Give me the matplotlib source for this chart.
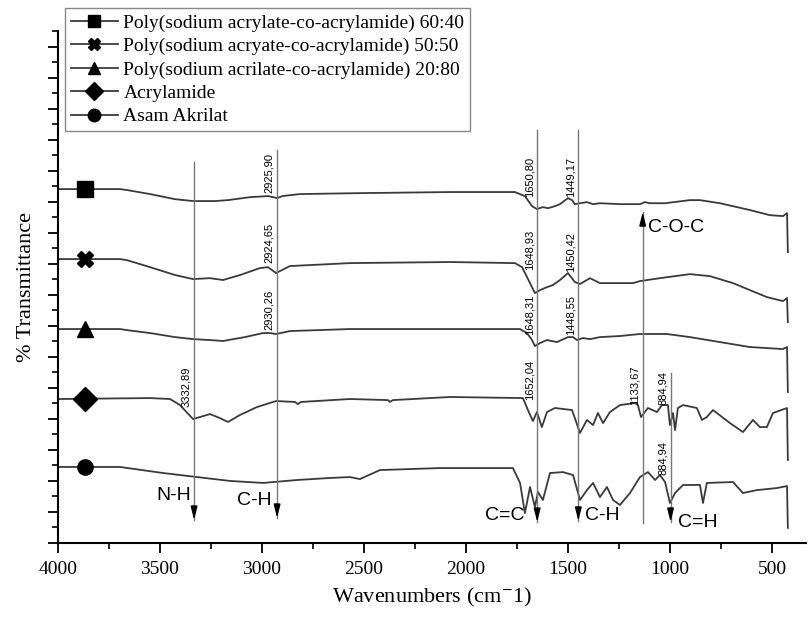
import matplotlib.pyplot as plt
import numpy as np
from matplotlib.lines import Line2D
from matplotlib.ticker import MultipleLocator, NullFormatter

plt.rcParams['font.family'] = ['Liberation Serif', 'DejaVu Serif']
plt.rcParams['mathtext.fontset'] = 'stix'

# FTIR spectra: wavenumber (cm-1) and stacked transmittance (a.u.)
wn_6040 = [4000, 3877, 3696, 3662, 3549, 3426, 3338, 3230, 3167, 3059, 2971, 2946, 2926,
           2900, 2814, 2520, 2078, 1784, 1760, 1711, 1676, 1652, 1623, 1598, 1564, 1539,
           1500, 1480, 1466, 1441, 1407, 1377, 1343, 1245, 1147, 1123, 1098, 1024, 902,
           853, 755, 608, 510, 446, 426, 422]
t_6040 = [22.81, 22.81, 22.81, 22.75, 22.49, 22.16, 22.04, 22.04, 22.10, 22.29, 22.36, 22.29,
          22.23, 22.36, 22.49, 22.55, 22.62, 22.62, 22.62, 22.36, 21.71, 21.52, 21.65, 21.58,
          21.71, 21.84, 22.23, 22.10, 21.84, 21.90, 21.97, 21.84, 21.90, 21.84, 21.84, 21.97,
          21.90, 21.90, 22.10, 22.10, 21.90, 21.46, 21.13, 21.07, 21.26, 18.75]

wn_5050 = [4000, 3696, 3662, 3549, 3426, 3338, 3255, 3191, 3108, 3010, 2971, 2931, 2863,
           2569, 2078, 1760, 1725, 1686, 1662, 1637, 1603, 1574, 1539, 1500, 1466, 1441,
           1392, 1343, 1181, 1147, 1049, 902, 804, 691, 608, 525, 446, 426, 422]
t_5050 = [18.30, 18.30, 18.23, 17.78, 17.27, 17.01, 17.07, 16.95, 17.27, 17.72, 17.78, 17.40,
          17.85, 18.04, 18.11, 18.04, 17.78, 16.75, 16.11, 16.30, 16.49, 16.62, 16.95, 17.40,
          16.82, 16.69, 17.07, 16.75, 16.75, 16.88, 17.07, 17.33, 17.20, 16.75, 16.30, 15.85,
          15.59, 15.79, 14.24]

wn_2080 = [4000, 3696, 3662, 3549, 3426, 3338, 3255, 3191, 3084, 2995, 2961, 2931, 2863,
           2569, 2078, 1735, 1701, 1676, 1662, 1637, 1603, 1554, 1500, 1475, 1456, 1426,
           1392, 1343, 1245, 1147, 1015, 902, 755, 608, 446, 426, 422]
t_2080 = [13.79, 13.79, 13.72, 13.53, 13.27, 13.14, 13.08, 13.02, 13.27, 13.53, 13.53, 13.47,
          13.66, 13.79, 13.79, 13.79, 13.53, 13.08, 12.69, 12.89, 13.08, 12.95, 13.27, 13.27,
          13.08, 13.21, 13.14, 13.27, 13.34, 13.47, 13.47, 13.27, 12.95, 12.63, 12.50, 12.63,
          9.73]

wn_acrylamide = [4000, 3549, 3451, 3402, 3338, 3304, 3255, 3206, 3167, 3108, 3025, 2931,
                 2838, 2824, 2809, 2569, 2382, 2373, 2358, 2078, 1721, 1696, 1672, 1652,
                 1628, 1603, 1564, 1480, 1441, 1407, 1377, 1353, 1328, 1294, 1245, 1171,
                 1157, 1142, 1108, 1064, 1039, 1010, 1000, 985, 975, 961, 936, 868, 843,
                 819, 789, 706, 642, 593, 559, 525, 495, 426, 422]
t_acrylamide = [9.28, 9.34, 9.28, 8.89, 7.99, 8.12, 8.31, 8.05, 7.80, 8.25, 8.76, 9.15,
                9.09, 8.95, 9.09, 9.28, 9.21, 9.09, 9.21, 9.41, 9.34, 8.57, 7.86, 8.44,
                7.47, 8.44, 8.70, 8.57, 7.09, 7.93, 7.60, 8.38, 7.73, 8.44, 8.89, 9.02,
                8.89, 8.12, 8.70, 8.44, 8.89, 8.89, 7.60, 8.38, 7.28, 8.70, 8.89, 8.70,
                7.93, 8.12, 8.57, 7.73, 7.15, 7.93, 7.47, 7.47, 8.38, 8.70, 5.35]

wn_akrilat = [4000, 3696, 3485, 3319, 3157, 2995, 2828, 2667, 2569, 2520, 2422, 2127, 1770,
              1735, 1711, 1686, 1662, 1647, 1623, 1588, 1525, 1475, 1441, 1407, 1377, 1343,
              1309, 1279, 1245, 1196, 1147, 1108, 1073, 1049, 1024, 1000, 975, 936, 853,
              838, 819, 691, 642, 574, 476, 426, 422]
t_akrilat = [4.90, 4.90, 4.51, 4.25, 4.00, 3.87, 4.06, 4.19, 4.25, 4.12, 4.70, 4.83, 4.83,
             3.87, 1.93, 3.61, 2.32, 3.29, 2.77, 4.51, 4.57, 4.38, 2.77, 3.41, 3.87, 2.96,
             3.61, 2.77, 2.45, 3.22, 4.25, 4.57, 4.06, 4.38, 3.93, 2.58, 3.22, 3.74, 3.74,
             2.58, 3.87, 3.93, 3.22, 3.41, 3.54, 3.67, 0.97]

labels = ['Poly(sodium acrylate-co-acrylamide) 60:40',
          'Poly(sodium acryate-co-acrylamide) 50:50',
          'Poly(sodium acrilate-co-acrylamide) 20:80',
          'Acrylamide',
          'Asam Akrilat']
markers = ['s', 'X', '^', 'D', 'o']
series = [(wn_6040, t_6040), (wn_5050, t_5050), (wn_2080, t_2080),
          (wn_acrylamide, t_acrylamide), (wn_akrilat, t_akrilat)]

# band assignment lines: wavenumber, top, tip, group label
band_wn = [3332.89, 2925.90, 1650.80, 1449.17, 1133.67, 997.0]
band_top = [24.55, 25.32, 26.6, 26.6, 1.29, 10.95]
band_tip = [1.48, 1.61, 1.35, 1.42, 21.33, 1.35]
band_name = ['N-H', 'C-H', 'C=C', 'C-H', 'C-O-C', 'C=H']
band_name_y = [3.09, 2.71, 1.80, 1.80, 20.36, 1.35]
band_name_dx = [-2, -4, -9, 5, 4, 5]

# peak values written beside the lines: text, line index, height
peak_text = ['2925,90', '2924,65', '2930,26', '3332,89', '1650,80', '1449,17', '1648,93',
             '1450,42', '1648,31', '1448,55', '1652,04', '1133,67', '884,94', '884,94']
peak_line = [1, 1, 1, 0, 2, 3, 2, 3, 2, 3, 2, 4, 5, 5]
peak_y = [22.55, 18.04, 13.72, 8.76, 22.29, 22.29, 17.59, 17.46, 13.40, 13.40, 9.21,
          8.89, 8.89, 4.38]

line_color = '#3a3a3a'
fig = plt.figure(figsize=(8.09, 6.19), dpi=100)
ax = fig.add_axes([0.0717, 0.1228, 0.9246, 0.8271])

handles = []
for (wn, t), lab, mk in zip(series, labels, markers):
    ax.plot(wn, t, color=line_color, lw=1.3)
    ym = np.interp(3868, wn[::-1], t[::-1])
    ms = 12 if mk == 'D' else 11
    ax.plot([3868], [ym], marker=mk, color='black', ms=ms, ls='none')
    handles.append(Line2D([], [], color=line_color, lw=1.3, marker=mk,
                          markerfacecolor='black', markeredgecolor='black', ms=9, label=lab))

for i, wn in enumerate(band_wn):
    ax.plot([wn, wn], [band_top[i], band_tip[i]], color='#777777', lw=1.0)
    ax.annotate('', xy=(wn, band_tip[i]), xytext=(0, 10 if band_tip[i] < band_top[i] else -10),
                textcoords='offset points',
                arrowprops=dict(arrowstyle='-|>,head_length=0.8,head_width=0.2',
                                color='black', lw=1.0, shrinkA=0, shrinkB=0))
    dx = band_name_dx[i]
    ax.annotate(band_name[i], xy=(wn, band_name_y[i]), xytext=(dx, 0),
                textcoords='offset points', ha='right' if dx < 0 else 'left', va='center',
                fontsize=14, family='Liberation Sans')

for txt, li, y in zip(peak_text, peak_line, peak_y):
    ax.annotate(txt, xy=(band_wn[li], y), xytext=(-2, 0), textcoords='offset points',
                rotation=90, ha='right', va='bottom', fontsize=8,
                family='Liberation Sans')

ax.set_xlim(4000, 333)
ax.set_ylim(0, 33)
ax.xaxis.set_major_locator(MultipleLocator(500))
ax.xaxis.set_minor_locator(MultipleLocator(250))
ax.yaxis.set_major_locator(MultipleLocator(2))
ax.yaxis.set_minor_locator(MultipleLocator(1))
ax.yaxis.set_major_formatter(NullFormatter())
ax.spines['top'].set_visible(False)
ax.spines['right'].set_visible(False)
for s in ['left', 'bottom']:
    ax.spines[s].set_linewidth(1.5)
ax.tick_params(which='major', direction='out', length=7, width=1.3, labelsize=14, pad=6,
               labelfontfamily='Liberation Serif')
ax.tick_params(which='minor', direction='out', length=4, width=1.2)

ax.set_xlabel('Wavenumbers (cm$^{-}$1)', fontsize=16, labelpad=6)
ax.set_ylabel('% Transmittance', fontsize=16, labelpad=3)

leg = fig.legend(handles=handles, loc='upper left', bbox_to_anchor=(65 / 809, 1 - 8 / 619),
                 fontsize=14, frameon=True, fancybox=False, framealpha=1,
                 edgecolor='#888888', handlelength=2.4, labelspacing=0.3,
                 borderpad=0.3, handletextpad=0.3, borderaxespad=0)
leg.get_frame().set_linewidth(1.0)

plt.savefig('out.png', dpi=100)
